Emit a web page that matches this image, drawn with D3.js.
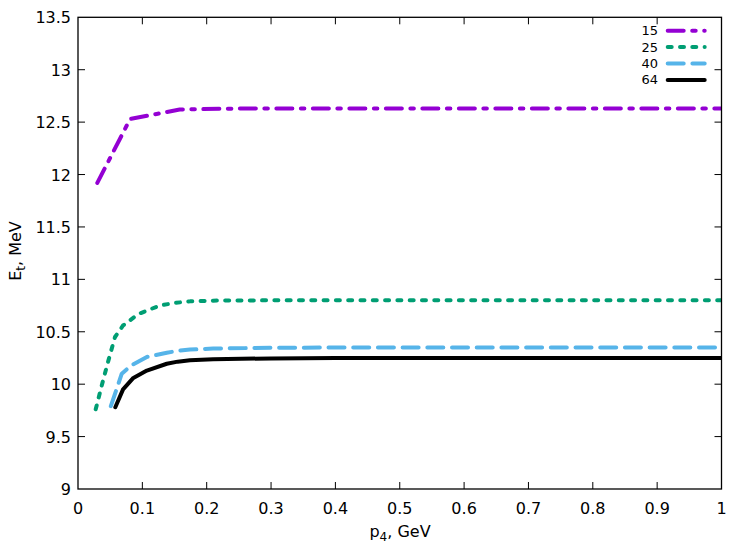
<!DOCTYPE html>
<html><head><meta charset="utf-8">
<script src="https://cdn.jsdelivr.net/npm/d3@7"></script>
<style>body{margin:0;background:#fff}svg{display:block}text{font-family:"DejaVu Sans",sans-serif;fill:#000}</style>
</head><body><svg id="c" width="747" height="558"></svg>
<script>
const xTicks = [0,0.1,0.2,0.3,0.4,0.5,0.6,0.7,0.8,0.9,1];
const yTicks = [9,9.5,10,10.5,11,11.5,12,12.5,13,13.5];
const seriesNames = ["15","25","40","64"];
const x15 = [0.03,0.081,0.124,0.158,0.25,0.4,0.6,0.8,1.0];
const y15 = [11.92,12.53,12.58,12.62,12.63,12.63,12.63,12.63,12.63];
const x25 = [0.0275,0.037,0.047,0.0575,0.070,0.094,0.127,0.15,0.174,0.21,0.3,0.4,0.6,0.8,1.0];
const y25 = [9.76,9.99,10.22,10.45,10.56,10.67,10.75,10.775,10.79,10.797,10.80,10.80,10.80,10.80,10.80];
const x40 = [0.051,0.068,0.083,0.107,0.138,0.155,0.174,0.21,0.3,0.4,0.6,0.8,1.0];
const y40 = [9.79,10.10,10.18,10.26,10.30,10.318,10.33,10.34,10.347,10.35,10.35,10.35,10.35];
const x64 = [0.058,0.070,0.086,0.107,0.138,0.155,0.174,0.21,0.3,0.4,0.6,0.8,1.0];
const y64 = [9.78,9.95,10.06,10.13,10.195,10.215,10.228,10.238,10.246,10.25,10.25,10.25,10.25];
const colors = ["#9400d3","#009e73","#56b4e9","#000000"];
const dashes = ["16,8.5,3.5,8.5","4,8.3","16,8.7",null];

const svg = d3.select("#c");
const L=78, R=721.5, T=17.3, B=489;
const x = d3.scaleLinear().domain([0,1]).range([L,R]);
const y = d3.scaleLinear().domain([9,13.5]).range([B,T]);

const tl = 7;
const ax = svg.append("g");
xTicks.forEach(v=>{
  if(v>0 && v<1){
    ax.append("line").attr("x1",x(v)).attr("x2",x(v)).attr("y1",B).attr("y2",B-tl).attr("stroke","#000");
    ax.append("line").attr("x1",x(v)).attr("x2",x(v)).attr("y1",T).attr("y2",T+tl).attr("stroke","#000");
  }
  ax.append("text").attr("x",x(v)).attr("y",B+25).attr("text-anchor","middle").attr("font-size",16).text(d3.format("")(v));
});
yTicks.forEach(v=>{
  if(v>9 && v<13.5){
    ax.append("line").attr("x1",L).attr("x2",L+tl).attr("y1",y(v)).attr("y2",y(v)).attr("stroke","#000");
    ax.append("line").attr("x1",R).attr("x2",R-tl).attr("y1",y(v)).attr("y2",y(v)).attr("stroke","#000");
  }
  ax.append("text").attr("x",L-7).attr("y",y(v)+6).attr("text-anchor","end").attr("font-size",16).text(v);
});

const xs=[x15,x25,x40,x64], ys=[y15,y25,y40,y64];
const line = d3.line().x(d=>x(d[0])).y(d=>y(d[1]));
svg.append("clipPath").attr("id","cp").append("rect").attr("x",L).attr("y",T).attr("width",R-L).attr("height",B-T);
seriesNames.forEach((n,i)=>{
  const pts = xs[i].map((xv,j)=>[xv,ys[i][j]]);
  const p = svg.append("path").attr("d",line(pts)).attr("fill","none")
    .attr("stroke",colors[i]).attr("stroke-width",4).attr("stroke-linecap","round").attr("stroke-linejoin","round")
    .attr("clip-path","url(#cp)");
  if(dashes[i]) p.attr("stroke-dasharray",dashes[i]);
});

svg.append("rect").attr("x",L).attr("y",T).attr("width",R-L).attr("height",B-T).attr("fill","none").attr("stroke","#000").attr("stroke-width",1.3);

const lg = svg.append("g");
seriesNames.forEach((n,i)=>{
  const yy = 30.7 + i*16.4;
  lg.append("text").attr("x",658).attr("y",yy+4.5).attr("text-anchor","end").attr("font-size",13).text(n);
  const p = lg.append("line").attr("x1",667.7).attr("x2",704.7).attr("y1",yy).attr("y2",yy)
    .attr("stroke",colors[i]).attr("stroke-width",4).attr("stroke-linecap","round");
  if(dashes[i]) p.attr("stroke-dasharray",dashes[i]);
});

const xt = svg.append("text").attr("x",400).attr("y",537).attr("text-anchor","middle").attr("font-size",16);
xt.append("tspan").text("p");
xt.append("tspan").attr("font-size",12).attr("dy",4).text("4");
xt.append("tspan").attr("dy",-4).text(", GeV");
const yt = svg.append("text").attr("transform","translate(21,251) rotate(-90)").attr("text-anchor","middle").attr("font-size",16);
yt.append("tspan").text("E");
yt.append("tspan").attr("font-size",12).attr("dy",4).text("t");
yt.append("tspan").attr("dy",-4).text(", MeV");
</script></body></html>
